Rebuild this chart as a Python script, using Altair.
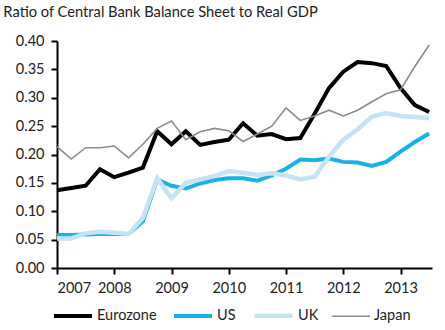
import altair as alt
import pandas as pd

quarters = [2007.0, 2007.25, 2007.5, 2007.75, 2008.0, 2008.25, 2008.5, 2008.75,
            2009.0, 2009.25, 2009.5, 2009.75, 2010.0, 2010.25, 2010.5, 2010.75,
            2011.0, 2011.25, 2011.5, 2011.75, 2012.0, 2012.25, 2012.5, 2012.75,
            2013.0, 2013.25, 2013.5]

eurozone = [0.137, 0.141, 0.145, 0.174, 0.160, 0.168, 0.177, 0.241,
            0.218, 0.241, 0.217, 0.222, 0.226, 0.255, 0.233, 0.236,
            0.227, 0.229, 0.272, 0.317, 0.346, 0.363, 0.361, 0.356,
            0.317, 0.287, 0.275]
us = [0.058, 0.058, 0.059, 0.060, 0.060, 0.060, 0.082, 0.156,
      0.145, 0.140, 0.149, 0.155, 0.158, 0.158, 0.154, 0.163,
      0.175, 0.191, 0.190, 0.193, 0.187, 0.186, 0.180, 0.187,
      0.205, 0.222, 0.237]
uk = [0.052, 0.052, 0.061, 0.064, 0.062, 0.060, 0.088, 0.158,
      0.123, 0.150, 0.156, 0.162, 0.171, 0.168, 0.164, 0.167,
      0.163, 0.156, 0.161, 0.196, 0.226, 0.244, 0.267, 0.273,
      0.268, 0.266, 0.264]
japan = [0.214, 0.192, 0.212, 0.212, 0.215, 0.194, 0.218, 0.246,
         0.259, 0.226, 0.240, 0.246, 0.242, 0.223, 0.236, 0.250,
         0.282, 0.260, 0.268, 0.278, 0.268, 0.278, 0.293, 0.307,
         0.314, 0.355, 0.393]

series_names = ["Eurozone", "US", "UK", "Japan"]
series_colors = ["#000000", "#1ab2e6", "#c4e3f3", "#8c8c8c"]
series_widths = [4, 4, 4.5, 1.6]
year_ticks = [2007, 2008, 2009, 2010, 2011, 2012, 2013]
y_ticks = [0.0, 0.05, 0.10, 0.15, 0.20, 0.25, 0.30, 0.35, 0.40]

rows = []
for name, vals in zip(series_names, [eurozone, us, uk, japan]):
    for q, v in zip(quarters, vals):
        rows.append({"date": q, "value": v, "series": name})
df = pd.DataFrame(rows)

FONT = "Lato"

chart = alt.Chart(df).mark_line(strokeJoin="miter").encode(
    x=alt.X("date:Q",
            scale=alt.Scale(domain=[2007, 2013.55], nice=False, zero=False),
            axis=alt.Axis(values=year_ticks, format="d", title=None)),
    y=alt.Y("value:Q",
            scale=alt.Scale(domain=[0, 0.40], nice=False),
            axis=alt.Axis(values=y_ticks, format=".2f", title=None)),
    color=alt.Color("series:N",
                    scale=alt.Scale(domain=series_names, range=series_colors),
                    legend=alt.Legend(title=None)),
    strokeWidth=alt.StrokeWidth("series:N",
                                scale=alt.Scale(type="ordinal", domain=series_names,
                                                range=series_widths),
                                legend=alt.Legend(title=None)),
).properties(
    width=375,
    height=227,
    autosize=alt.AutoSizeParams(type="none"),
    padding={"left": 57, "top": 41, "right": 13, "bottom": 62},
    title=alt.TitleParams(
        "Ratio of Central Bank Balance Sheet to Real GDP",
        anchor="start", dx=-12, offset=13, fontSize=14.7,
        font=FONT, fontWeight="normal", color="#222222",
    ),
).configure_view(
    stroke=None
).configure_axis(
    grid=False,
    domainColor="#000000",
    domainWidth=2,
    tickColor="#000000",
    tickWidth=2,
    tickSize=6,
    labelFont=FONT,
    labelFontSize=14.5,
    labelColor="#222222",
).configure_axisY(
    labelPadding=7,
).configure_axisX(
    labelPadding=7,
).configure_legend(
    orient="none",
    legendX=-5,
    legendY=253,
    direction="horizontal",
    symbolType="stroke",
    symbolSize=1444,
    labelFont=FONT,
    labelFontSize=14.5,
    labelColor="#222222",
    labelOffset=3,
    columnPadding=9,
)

chart.save("out.html", embed_options={"renderer": "svg", "actions": False})
